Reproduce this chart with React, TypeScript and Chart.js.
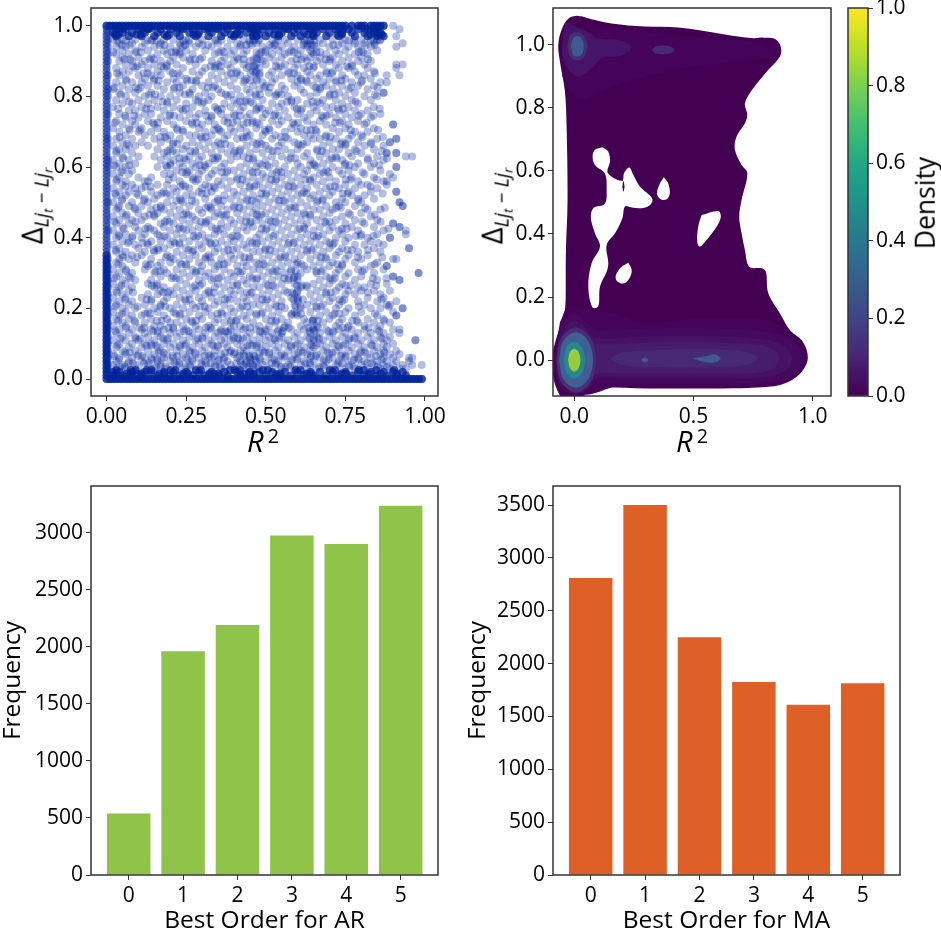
import { useEffect, useRef } from 'react'
import { Chart, registerables } from 'chart.js'

Chart.register(...registerables)

const FONT = '"Open Sans", sans-serif'
const INK = '#000'
const FRAME = '#333'

// bottom bar charts
const orders = [0, 1, 2, 3, 4, 5]
const arCounts = [540, 1960, 2190, 2975, 2900, 3235]
const maCounts = [2810, 3500, 2250, 1825, 1610, 1815]
const arTicks = [0, 500, 1000, 1500, 2000, 2500, 3000]
const maTicks = [0, 500, 1000, 1500, 2000, 2500, 3000, 3500]

// scatter: dense edges of the cloud
const edgeTopX = [0,.01,.02,.03,.04,.05,.06,.07,.08,.09,.1,.11,.12,.13,.14,.15,.16,.17,.18,.19,.2,.21,.22,.23,.24,.25,.26,.27,.28,.29,.3,.31,.32,.33,.34,.35,.36,.37,.38,.39,.4,.41,.42,.43,.44,.45,.46,.47,.48,.49,.5,.51,.52,.53,.54,.55,.56,.57,.58,.59,.6,.61,.62,.63,.64,.65,.66,.67,.68,.69,.7,.71,.72,.73,.74,.75,.77,.79,.8,.81,.83,.84,.85,.86,.87]
const edgeBottomX = [0,.01,.02,.03,.04,.05,.06,.07,.08,.09,.1,.11,.12,.13,.14,.15,.16,.17,.18,.19,.2,.21,.22,.23,.24,.25,.26,.27,.28,.29,.3,.31,.32,.33,.34,.35,.36,.37,.38,.39,.4,.41,.42,.43,.44,.45,.46,.47,.48,.49,.5,.51,.52,.53,.54,.55,.56,.57,.58,.59,.6,.61,.62,.63,.64,.65,.66,.67,.68,.69,.7,.71,.72,.73,.74,.75,.76,.77,.78,.79,.8,.81,.82,.83,.84,.85,.86,.87,.88,.89,.9,.91,.92,.93,.94,.95,.96,.97,.98,.99]
const edgeLeftLow = [.01,.02,.03,.04,.05,.06,.07,.08,.09,.1,.11,.12,.13,.14,.15,.16,.17,.18,.19,.2,.21,.22,.23,.24,.25,.26,.27,.28,.29,.3,.31,.32,.33,.34,.35]
const edgeLeftHigh = [.36,.37,.38,.39,.4,.41,.42,.43,.44,.45,.46,.47,.48,.49,.5,.51,.52,.53,.54,.55,.56,.57,.58,.59,.6,.61,.62,.63,.64,.65,.66,.67,.68,.69,.7,.71,.72,.73,.74,.75,.76,.77,.78,.79,.8,.81,.82,.83,.84,.85,.86,.87,.88,.89,.9,.91,.92,.93,.94,.95,.96,.97,.98,.99]
const edgeLeftDense = [.02,.04,.06,.08,.1,.12,.14,.16,.18,.2,.22,.24,.26,.28,.3,.32,.34,.42,.5,.6,.62,.68,.75,.8,.82,.86,.9,.92,.94,.96,.98]
const edgeRepeats = [1, 2, 3, 4, 5]
const bandRepeats = [1, 2, 3]

const scatterHigh = [
  [.99,.03,.06,.1,.13,.17,.2,.24,.27,.31,.35,.38,.42,.46,.49,.53,.57,.6,.64,.68,.72,.76,.79,.83,.85],
  [.98,.02,.05,.08,.12,.16,.22,.26,.29,.33,.37,.41,.44,.47,.51,.55,.59,.62,.66,.7,.74,.77,.81,.84,.86],
  [.97,.03,.07,.11,.15,.19,.23,.28,.32,.36,.4,.46,.47,.5,.54,.58,.61,.65,.69,.73,.78,.82,.85,.87],
  [.96,.02,.05,.09,.14,.18,.21,.25,.3,.34,.39,.43,.46,.48,.52,.56,.6,.63,.67,.71,.75,.8,.83,.86],
  [.95,.04,.08,.12,.17,.23,.26,.29,.35,.41,.45,.47,.53,.57,.62,.64,.68,.74,.78,.81,.84],
  [.94,.03,.06,.11,.15,.2,.24,.28,.33,.38,.42,.49,.52,.55,.59,.63,.66,.7,.76,.79,.83],
  [.93,.05,.09,.13,.18,.22,.25,.31,.36,.4,.44,.5,.54,.58,.61,.64,.72,.75,.8,.85],
  [.92,.03,.07,.16,.19,.23,.27,.34,.39,.43,.48,.52,.56,.6,.65,.69,.73,.78,.82],
  [.91,.05,.1,.14,.21,.24,.3,.37,.41,.47,.51,.55,.62,.64,.67,.71,.76,.8],
  [.9,.04,.08,.12,.17,.2,.26,.33,.36,.4,.45,.49,.53,.58,.63,.66,.7,.74,.79,.83],
  [.89,.06,.11,.15,.19,.22,.28,.35,.38,.43,.47,.5,.56,.6,.68,.72,.77,.81],
  [.88,.03,.09,.13,.18,.24,.31,.34,.39,.44,.48,.54,.59,.62,.65,.73,.76,.82],
  [.87,.05,.07,.16,.2,.27,.3,.36,.41,.46,.47,.52,.57,.63,.69,.71,.78,.84],
  [.86,.04,.1,.14,.17,.23,.29,.33,.38,.42,.48,.51,.55,.6,.64,.67,.74,.79,.81],
  [.85,.06,.12,.15,.21,.25,.35,.4,.44,.47,.53,.58,.61,.66,.7,.75,.83],
]
const scatterMid = [
  [.84,.03,.08,.11,.19,.22,.28,.32,.37,.43,.49,.52,.6,.63,.68,.72,.77,.8,.86],
  [.83,.05,.13,.16,.24,.3,.34,.39,.46,.5,.55,.59,.65,.69,.74,.79,.84],
  [.82,.02,.07,.1,.18,.21,.27,.35,.41,.44,.48,.56,.61,.67,.71,.76,.82],
  [.81,.04,.09,.14,.23,.26,.31,.36,.45,.51,.54,.62,.66,.73,.78,.87],
  [.8,.06,.12,.17,.2,.29,.33,.38,.42,.47,.53,.57,.64,.7,.75,.81,.85],
  [.79,.03,.1,.15,.22,.28,.32,.4,.44,.49,.58,.6,.68,.72,.77,.83],
  [.78,.05,.08,.13,.19,.25,.3,.37,.41,.46,.52,.55,.63,.67,.74,.79],
  [.77,.02,.11,.16,.21,.27,.34,.39,.43,.48,.54,.59,.65,.69,.71,.76,.84],
  [.76,.07,.09,.18,.24,.31,.35,.42,.47,.51,.56,.61,.66,.73,.78,.82],
  [.75,.04,.12,.14,.2,.26,.29,.36,.4,.45,.5,.53,.6,.64,.7,.75,.8,.86],
  [.74,.06,.1,.17,.23,.28,.33,.38,.44,.49,.57,.62,.68,.72,.77,.83],
  [.73,.03,.08,.13,.19,.25,.32,.37,.41,.46,.52,.55,.63,.67,.74,.79],
  [.72,.05,.09,.15,.21,.27,.3,.34,.43,.48,.54,.59,.65,.69,.76,.81,.9],
  [.71,.02,.07,.11,.16,.22,.29,.35,.39,.42,.47,.51,.58,.61,.71,.75,.84],
  [.7,.04,.1,.14,.18,.24,.31,.36,.4,.44,.5,.56,.6,.66,.73,.78,.82],
  [.69,.06,.12,.2,.26,.28,.33,.38,.45,.49,.53,.62,.64,.69,.77,.8],
  [.68,.03,.08,.15,.19,.23,.3,.37,.41,.43,.52,.57,.65,.67,.72,.76,.85,.91],
  [.67,.05,.11,.17,.21,.27,.32,.35,.46,.48,.55,.59,.63,.7,.74,.79,.83,.89],
  [.66,.02,.07,.09,.13,.25,.29,.34,.39,.44,.5,.54,.61,.68,.75,.81,.87],
  [.65,.04,.06,.16,.2,.24,.31,.36,.42,.47,.51,.56,.6,.66,.71,.73,.78,.84],
  [.64,.03,.08,.18,.22,.28,.33,.38,.4,.45,.49,.58,.63,.69,.76,.8,.88,.91],
  [.63,.05,.1,.15,.19,.26,.3,.35,.41,.43,.52,.55,.62,.67,.72,.77,.85,.94,.96],
  [.62,.02,.07,.17,.21,.25,.29,.34,.39,.46,.5,.57,.64,.7,.74,.82,.87],
  [.61,.04,.09,.2,.23,.27,.32,.37,.44,.48,.53,.6,.65,.68,.75,.79,.84],
  [.6,.03,.06,.16,.19,.24,.28,.31,.36,.42,.47,.51,.56,.61,.66,.71,.78,.83,.91],
  [.59,.05,.08,.22,.26,.3,.34,.38,.4,.45,.54,.59,.63,.69,.73,.76,.86],
  [.58,.02,.07,.18,.2,.25,.29,.33,.43,.49,.52,.57,.62,.67,.74,.81,.89],
  [.57,.04,.1,.14,.21,.27,.32,.37,.41,.46,.5,.55,.6,.65,.7,.77,.84],
  [.56,.03,.06,.12,.13,.23,.28,.35,.39,.44,.48,.53,.58,.64,.68,.72,.79,.87],
  [.55,.05,.08,.16,.19,.24,.31,.36,.42,.47,.51,.56,.61,.66,.75,.8,.82,.88],
  [.54,.02,.09,.11,.21,.26,.3,.34,.38,.45,.49,.54,.59,.63,.69,.73,.78,.85],
  [.53,.04,.07,.14,.18,.22,.29,.33,.4,.43,.52,.57,.62,.67,.71,.76,.83,.91],
  [.52,.03,.06,.1,.16,.2,.25,.27,.37,.41,.46,.5,.55,.6,.65,.7,.77,.81],
  [.51,.05,.12,.15,.23,.31,.35,.39,.44,.48,.53,.58,.64,.68,.74,.79,.84],
  [.5,.02,.08,.13,.19,.24,.28,.34,.42,.47,.51,.56,.61,.66,.72,.75,.8,.92],
  [.49,.04,.07,.11,.17,.21,.26,.32,.36,.4,.45,.49,.54,.59,.63,.69,.73,.78,.93],
  [.48,.03,.09,.14,.18,.23,.29,.33,.38,.43,.47,.52,.57,.65,.67,.71,.82,.86],
  [.47,.05,.1,.16,.2,.25,.3,.35,.41,.46,.5,.55,.6,.62,.7,.76,.8],
  [.46,.02,.06,.12,.15,.22,.27,.34,.37,.44,.48,.53,.58,.64,.68,.74,.83],
  [.45,.04,.08,.11,.19,.24,.28,.32,.39,.42,.47,.51,.56,.61,.66,.72,.78,.85],
  [.44,.03,.07,.17,.21,.26,.31,.36,.4,.45,.49,.54,.59,.63,.69,.75,.81,.9],
  [.43,.05,.09,.13,.18,.23,.29,.33,.38,.43,.46,.52,.57,.62,.67,.71,.77,.84,.92],
  [.42,.02,.1,.15,.2,.25,.27,.35,.41,.44,.5,.55,.6,.65,.7,.73,.79,.87,.94],
  [.41,.04,.06,.12,.16,.22,.3,.34,.37,.48,.53,.58,.63,.68,.74,.8,.85],
  [.4,.03,.08,.11,.19,.24,.28,.32,.39,.42,.47,.51,.56,.61,.66,.72,.76,.82,.89],
  [.39,.05,.07,.14,.17,.21,.26,.31,.36,.4,.45,.49,.54,.59,.64,.69,.75,.83],
  [.38,.02,.09,.13,.2,.23,.29,.33,.38,.43,.47,.52,.57,.62,.67,.71,.78,.81,.87],
  [.37,.04,.1,.16,.18,.25,.3,.35,.41,.44,.5,.55,.6,.65,.7,.74,.84,.95],
  [.36,.03,.06,.12,.15,.22,.27,.34,.37,.46,.48,.53,.58,.63,.68,.73,.79,.86],
  [.35,.05,.08,.11,.19,.24,.28,.32,.39,.42,.51,.56,.61,.66,.72,.76,.82],
  [.34,.04,.07,.14,.21,.26,.31,.36,.4,.45,.49,.54,.59,.64,.69,.75,.8,.9],
  [.33,.03,.09,.17,.2,.23,.29,.33,.38,.43,.47,.52,.57,.6,.67,.71,.78,.85],
  [.32,.05,.13,.16,.25,.3,.35,.41,.44,.5,.55,.62,.65,.7,.74,.83,.88],
  [.31,.02,.06,.12,.18,.22,.27,.34,.37,.46,.48,.53,.58,.63,.68,.73,.79,.81,.87],
  [.3,.04,.08,.15,.19,.24,.28,.32,.39,.42,.51,.56,.61,.66,.72,.76,.84,.98],
  [.29,.03,.07,.17,.21,.26,.31,.36,.4,.45,.49,.54,.59,.6,.69,.75,.8,.9],
  [.28,.05,.09,.14,.23,.29,.33,.38,.43,.47,.52,.57,.6,.67,.71,.78,.85,.92],
  [.27,.02,.06,.13,.16,.25,.3,.35,.41,.44,.5,.55,.59,.65,.7,.74,.83,.88],
  [.26,.04,.08,.15,.18,.22,.27,.34,.37,.46,.48,.53,.61,.63,.68,.73,.79,.81],
  [.25,.03,.07,.17,.2,.24,.28,.32,.39,.42,.51,.56,.6,.66,.72,.76,.8,.84,.89],
  [.24,.05,.13,.16,.21,.26,.31,.36,.4,.45,.49,.54,.59,.64,.69,.75,.78,.86],
  [.23,.02,.06,.11,.19,.23,.29,.33,.38,.43,.47,.52,.58,.6,.67,.71,.82,.87],
  [.22,.04,.08,.14,.18,.25,.3,.35,.41,.44,.5,.55,.6,.65,.7,.74,.79,.85,.91],
  [.21,.03,.07,.12,.17,.22,.27,.34,.37,.46,.48,.53,.59,.63,.68,.73,.81,.88,.89],
  [.2,.05,.09,.15,.2,.24,.28,.32,.39,.42,.51,.56,.61,.66,.72,.76,.83,.86,.93],
  [.19,.02,.06,.13,.16,.21,.26,.31,.36,.4,.45,.49,.54,.59,.64,.69,.75,.8,.9],
  [.18,.04,.08,.11,.18,.23,.29,.33,.38,.43,.47,.52,.58,.6,.67,.71,.78,.85,.91],
  [.17,.03,.07,.14,.19,.25,.3,.35,.41,.44,.5,.55,.62,.65,.7,.74,.82,.87],
  [.16,.05,.09,.12,.2,.22,.27,.34,.37,.39,.46,.53,.57,.63,.68,.73,.79,.84,.89],
  [.15,.02,.06,.15,.17,.24,.28,.32,.4,.42,.48,.51,.56,.61,.66,.72,.76,.81,.86],
]
const scatterLow = [
  [.14,.04,.08,.11,.14,.18,.21,.25,.29,.33,.36,.39,.43,.47,.5,.54,.58,.62,.65,.69,.73,.77,.81,.85,.9,.92],
  [.13,.03,.07,.12,.16,.2,.23,.27,.31,.35,.38,.41,.45,.49,.52,.55,.6,.64,.67,.71,.75,.79,.83,.87],
  [.12,.05,.09,.13,.17,.22,.26,.3,.34,.37,.4,.44,.48,.51,.55,.59,.63,.66,.7,.74,.78,.82,.86,.89],
  [.11,.02,.06,.1,.15,.19,.24,.28,.32,.36,.39,.42,.46,.5,.53,.57,.61,.65,.68,.72,.76,.8,.84,.88,.97],
  [.1,.04,.08,.12,.14,.18,.21,.25,.29,.33,.37,.41,.45,.48,.52,.56,.6,.64,.67,.71,.75,.79,.83,.87,.9],
  [.09,.03,.07,.11,.16,.2,.23,.27,.31,.35,.38,.43,.47,.5,.54,.58,.62,.65,.69,.73,.77,.81,.85,.88],
  [.08,.05,.09,.13,.17,.22,.26,.3,.34,.39,.42,.44,.49,.53,.57,.61,.64,.68,.72,.76,.8,.84,.87,.91],
  [.07,.02,.06,.1,.15,.19,.24,.28,.32,.36,.4,.43,.46,.51,.55,.59,.63,.66,.7,.74,.78,.82,.86,.89,.92],
  [.06,.04,.08,.12,.14,.18,.21,.25,.29,.33,.37,.41,.45,.48,.52,.56,.6,.64,.67,.71,.75,.79,.83,.87,.9,.95,.96],
  [.05,.03,.07,.11,.16,.2,.23,.27,.31,.35,.38,.42,.44,.47,.5,.54,.58,.62,.65,.69,.73,.77,.81,.85,.88,.91,.95],
  [.04,.02,.05,.09,.13,.17,.22,.26,.3,.34,.39,.43,.46,.49,.53,.57,.61,.64,.68,.72,.76,.8,.84,.87,.9,.93,.96,.99],
  [.03,.03,.06,.1,.15,.19,.24,.28,.32,.36,.4,.44,.47,.51,.55,.59,.63,.66,.7,.74,.78,.82,.86,.89,.92,.94],
  [.02,.02,.04,.08,.12,.14,.18,.21,.25,.29,.33,.37,.41,.45,.48,.52,.56,.6,.64,.67,.71,.75,.79,.83,.87,.9,.93],
  [.01,.02,.05,.07,.11,.16,.2,.23,.27,.31,.35,.38,.42,.46,.5,.54,.58,.62,.65,.69,.73,.77,.81,.85,.88,.91,.94],
]
// clumps in between the rows, where the dots pile up in the reference
const scatterClumps = [
  [.992,.041,.052,.113,.127,.138,.223,.236,.318,.329,.347,.451,.462,.473,.558,.569,.642,.655,.731,.744,.812,.838,.846],
  [.975,.027,.038,.094,.107,.182,.196,.273,.286,.391,.404,.417,.462,.478,.527,.541,.633,.648,.725,.739,.828,.852,.864],
  [.958,.034,.061,.128,.143,.157,.241,.258,.344,.361,.448,.463,.477,.538,.622,.639,.653,.761,.776,.837,.849,.858],
  [.945,.048,.072,.166,.181,.232,.247,.301,.318,.421,.439,.456,.512,.528,.618,.631,.644,.652,.712,.728,.815,.842],
  [.925,.021,.093,.108,.204,.217,.229,.352,.368,.471,.486,.498,.572,.588,.646,.659,.671,.792,.806],
  [.905,.056,.074,.136,.148,.262,.278,.293,.414,.431,.462,.473,.485,.596,.612,.688,.703,.821],
  [.885,.083,.097,.172,.188,.327,.342,.358,.447,.461,.466,.532,.548,.637,.651,.755,.771],
  [.865,.033,.116,.129,.208,.223,.391,.407,.452,.468,.481,.573,.589,.692,.708,.843],
  [.845,.062,.148,.164,.253,.267,.282,.435,.451,.472,.611,.627,.722,.738,.803],
  [.825,.024,.092,.107,.213,.229,.318,.334,.496,.513,.658,.672,.768,.851],
  [.805,.045,.133,.152,.246,.262,.374,.391,.468,.482,.533,.549,.701,.716,.843],
  [.785,.071,.176,.191,.288,.305,.419,.436,.452,.567,.581,.647,.662,.782],
  [.765,.036,.124,.139,.233,.249,.347,.362,.471,.488,.598,.614,.727,.742,.858],
  [.745,.058,.087,.197,.212,.313,.329,.403,.419,.526,.541,.676,.691,.792,.838],
  [.725,.026,.146,.161,.268,.283,.381,.396,.442,.457,.472,.585,.601,.718,.733,.816],
  [.705,.073,.105,.223,.239,.338,.354,.497,.512,.628,.642,.657,.767,.853],
  [.685,.041,.169,.184,.296,.311,.426,.441,.547,.562,.688,.703,.804,.868],
  [.665,.064,.208,.223,.358,.373,.472,.487,.602,.617,.736,.751,.831],
  [.645,.031,.192,.207,.263,.278,.403,.418,.521,.536,.662,.677,.785,.864],
  [.625,.052,.229,.244,.334,.349,.446,.461,.578,.593,.708,.723,.821,.881],
  [.605,.023,.071,.186,.201,.293,.308,.489,.504,.639,.654,.748,.763,.856],
  [.585,.046,.238,.253,.362,.377,.459,.474,.534,.549,.681,.696,.804],
  [.565,.032,.195,.272,.287,.411,.426,.518,.533,.624,.639,.751,.766,.848],
  [.545,.059,.122,.138,.232,.247,.322,.337,.449,.464,.571,.586,.702,.717,.829],
  [.525,.027,.094,.173,.188,.299,.314,.486,.501,.613,.628,.742,.757,.867],
  [.505,.048,.117,.219,.234,.268,.351,.366,.442,.457,.541,.556,.663,.678,.791],
  [.485,.036,.087,.156,.171,.312,.327,.402,.417,.578,.593,.721,.736,.812,.874],
  [.465,.063,.134,.149,.242,.257,.361,.376,.472,.487,.624,.639,.765,.842],
  [.445,.025,.091,.183,.198,.297,.312,.438,.453,.516,.531,.686,.701,.803,.861],
  [.425,.054,.122,.137,.226,.241,.343,.358,.487,.502,.607,.622,.739,.754,.885],
  [.405,.038,.082,.167,.182,.273,.288,.396,.411,.523,.651,.666,.783,.798,.838],
  [.385,.067,.113,.128,.214,.229,.326,.341,.457,.472,.572,.587,.701,.716,.854],
  [.365,.029,.148,.163,.258,.273,.382,.397,.498,.513,.628,.643,.756,.771,.821],
  [.345,.051,.096,.186,.201,.311,.326,.433,.448,.547,.562,.673,.688,.789,.866],
  [.325,.037,.123,.138,.235,.25,.354,.369,.478,.493,.596,.611,.725,.74,.842],
  [.305,.062,.154,.169,.281,.296,.412,.427,.521,.536,.579,.594,.658,.673,.803],
  [.285,.024,.075,.204,.219,.337,.352,.458,.473,.558,.573,.588,.702,.717,.836,.879],
  [.265,.046,.142,.157,.278,.293,.396,.411,.507,.522,.598,.613,.628,.751,.766,.847],
  [.245,.033,.083,.178,.193,.322,.337,.441,.456,.568,.583,.598,.689,.704,.821],
  [.225,.058,.126,.141,.246,.261,.372,.387,.489,.504,.587,.602,.617,.732,.747,.864],
  [.205,.027,.097,.169,.184,.293,.308,.427,.442,.534,.549,.594,.609,.658,.673,.792,.886],
  [.185,.049,.121,.136,.217,.232,.348,.363,.471,.486,.581,.596,.611,.716,.731,.843],
  [.165,.036,.088,.158,.173,.266,.281,.392,.407,.518,.533,.648,.663,.647,.771,.786,.872],
  [.145,.061,.103,.118,.194,.209,.312,.327,.436,.451,.557,.572,.634,.649,.664,.742,.757,.823],
  [.135,.028,.146,.161,.243,.258,.358,.373,.383,.482,.497,.538,.553,.638,.653,.697,.712,.856],
  [.115,.043,.091,.106,.178,.193,.286,.301,.398,.413,.428,.527,.542,.637,.652,.667,.763,.778,.864],
  [.095,.034,.126,.141,.156,.231,.246,.334,.349,.442,.457,.472,.579,.594,.644,.659,.728,.743,.833],
  [.075,.058,.073,.164,.179,.262,.277,.372,.387,.402,.481,.496,.511,.602,.617,.694,.709,.796,.811,.872],
  [.065,.024,.097,.112,.207,.222,.308,.323,.338,.418,.433,.448,.463,.545,.56,.642,.657,.736,.751,.846],
  [.055,.039,.143,.158,.173,.254,.269,.353,.368,.452,.467,.482,.526,.583,.598,.683,.698,.777,.792,.864],
  [.045,.068,.083,.118,.133,.213,.228,.297,.312,.327,.407,.422,.437,.452,.518,.533,.624,.639,.726,.741,.818,.833],
  [.035,.042,.057,.155,.17,.185,.248,.263,.342,.357,.372,.446,.461,.476,.547,.562,.577,.668,.683,.762,.777,.852,.881],
  [.025,.031,.076,.091,.126,.141,.201,.216,.281,.296,.388,.403,.418,.491,.506,.594,.609,.702,.717,.793,.808,.847,.903],
  [.015,.028,.063,.078,.093,.108,.166,.181,.241,.256,.323,.338,.353,.432,.447,.462,.531,.546,.628,.643,.738,.753,.824,.861,.912],
]
const scatterStragglers = [[.93,.95],[.92,.99],[.91,.97],[.91,.94],[.93,.89],[.91,.89],[.91,.88],[.92,.86],[.9,1],[.88,.86],[.88,.84],[.87,.81],[.9,.72],[.91,.68],[.89,.67],[.91,.64],[.88,.64],[.91,.6],[.9,.57],[.88,.56],[.91,.53],[.92,.5],[.93,.49],[.9,.44],[.92,.43],[.89,.4],[.94,.41],[.95,.37],[.98,.3],[.92,.28],[.9,.29],[.88,.32],[.91,.34],[.93,.2],[.91,.18],[.92,.13],[.97,.11]]
const scatterTicksX = [0, .25, .5, .75, 1]
const scatterTicksY = [0, .2, .4, .6, .8, 1]

// density: contour outlines as [x, y], lowest level first
const densityOutline = [[-.039,.159],[-.06,.106],[-.081,.053],[-.09,.021],[-.09,-.042],[-.074,-.09],[-.046,-.12],[.034,-.12],[.052,-.1],[.087,-.087],[.3,-.09],[.625,-.09],[.765,-.087],[.863,-.079],[.933,-.053],[.975,-.011],[.977,.026],[.954,.063],[.905,.095],[.863,.148],[.814,.212],[.804,.28],[.786,.291],[.734,.296],[.716,.349],[.702,.402],[.692,.455],[.702,.508],[.726,.593],[.702,.619],[.674,.667],[.681,.709],[.716,.751],[.726,.778],[.716,.815],[.751,.862],[.807,.915],[.863,.963],[.866,.995],[.842,1.019],[.793,1.023],[.751,1.021],[.625,1.034],[.436,1.055],[.297,1.058],[.157,1.068],[.087,1.079],[.017,1.092],[-.025,1.083],[-.053,1.048],[-.067,1],[-.06,.947],[-.039,.852],[-.032,.741],[-.028,.508],[-.035,.339],[-.036,.19],[-.039,.159]]
const faintTop = [[-.05,.9],[.02,.83],[.1,.85],[.3,.9],[.5,.93],[.7,.95],[.82,.96],[.8,1],[.6,1.02],[.3,1.04],[.05,1.06],[-.04,1.02],[-.05,.9]]
const faintBottom = [[-.06,.12],[-.02,.17],[.1,.16],[.3,.12],[.5,.13],[.7,.13],[.84,.12],[.93,.05],[.95,-.02],[.86,-.07],[.6,-.08],[.2,-.08],[.05,-.11],[-.05,-.09],[-.08,0],[-.06,.12]]
const topRing = [[-.05,.995],[-.035,1.07],[.013,1.055],[.06,1.04],[.1,1.02],[.19,1.015],[.24,.995],[.23,.98],[.19,.965],[.12,.96],[.08,.93],[.017,.9],[-.03,.93],[-.05,.97],[-.05,.995]]
const topRing2 = [[-.029,.995],[-.015,1.032],[.013,1.04],[.04,1.03],[.055,.995],[.04,.96],[.013,.951],[-.015,.96],[-.029,.995]]
const topSpot = [[-.014,.995],[-.004,1.022],[.013,1.027],[.03,1.022],[.04,.995],[.03,.968],[.013,.963],[-.004,.968],[-.014,.995]]
const topSliver = [[.325,.984],[.345,.996],[.4,.996],[.42,.984],[.4,.972],[.345,.972],[.325,.984]]
const bandA = [[-.07,.06],[-.045,.12],[0,.15],[.05,.12],[.1,.095],[.3,.1],[.6,.1],[.8,.09],[.9,.07],[.955,.02],[.93,-.04],[.85,-.068],[.6,-.072],[.2,-.072],[.08,-.08],[.04,-.105],[-.01,-.11],[-.06,-.08],[-.08,-.01],[-.07,.06]]
const bandB = [[-.06,.05],[-.035,.105],[0,.125],[.05,.1],[.09,.07],[.3,.075],[.6,.075],[.8,.065],[.88,.045],[.912,.01],[.89,-.03],[.8,-.054],[.6,-.056],[.2,-.056],[.09,-.06],[.05,-.095],[0,-.1],[-.05,-.07],[-.07,-.01],[-.06,.05]]
const bandC = [[-.055,.04],[-.03,.09],[.005,.105],[.05,.08],[.085,.052],[.3,.056],[.6,.056],[.78,.048],[.84,.03],[.859,.005],[.84,-.025],[.77,-.04],[.6,-.043],[.2,-.043],[.09,-.045],[.06,-.075],[0,-.09],[-.05,-.06],[-.065,-.01],[-.055,.04]]
const bandD = [[.15,.005],[.2,.024],[.4,.033],[.6,.034],[.72,.026],[.771,.005],[.72,-.016],[.6,-.022],[.4,-.024],[.2,-.016],[.15,.005]]
const spotLeft = [[.28,0],[.295,.008],[.311,0],[.295,-.008],[.28,0]]
const spotRight = [[.497,.005],[.55,.012],[.59,.018],[.614,.005],[.59,-.008],[.55,-.007],[.497,.005]]
const lumpRing = [[-.076,.0],[-.055,.07],[.007,.103],[.07,.07],[.09,0],[.07,-.07],[.007,-.103],[-.055,-.07],[-.076,0]]
const lumpBlue = [[-.064,0],[-.045,.062],[.007,.088],[.058,.062],[.078,0],[.058,-.062],[.007,-.088],[-.045,-.062],[-.064,0]]
const lumpTeal = [[-.045,0],[-.032,.041],[0,.058],[.032,.041],[.045,0],[.032,-.041],[0,-.058],[-.032,-.041],[-.045,0]]
const lumpGreen = [[-.026,0],[-.018,.026],[0,.036],[.018,.026],[.026,0],[.018,-.026],[0,-.036],[-.018,-.026],[-.026,0]]
const holeLarge = [[.119,.675],[.143,.661],[.15,.63],[.139,.598],[.157,.582],[.202,.569],[.209,.593],[.231,.611],[.248,.587],[.276,.55],[.327,.513],[.318,.492],[.283,.482],[.241,.484],[.213,.487],[.202,.45],[.171,.402],[.136,.365],[.143,.307],[.136,.28],[.108,.233],[.101,.171],[.077,.167],[.059,.233],[.073,.307],[.108,.36],[.087,.402],[.07,.45],[.08,.482],[.129,.497],[.136,.55],[.133,.582],[.122,.598],[.087,.619],[.077,.646],[.087,.667],[.119,.675]]
const holeSliver = [[.202,.55],[.206,.568],[.211,.55],[.206,.534],[.202,.55]]
const holeNear = [[.376,.58],[.394,.561],[.401,.529],[.388,.51],[.362,.51],[.347,.529],[.36,.561],[.376,.58]]
const holeRight = [[.534,.46],[.604,.473],[.615,.455],[.597,.423],[.555,.381],[.527,.36],[.516,.376],[.52,.423],[.534,.46]]
const holeLow = [[.227,.309],[.241,.286],[.231,.259],[.206,.243],[.178,.252],[.175,.27],[.199,.296],[.227,.309]]
const densityTicksX = [0, .5, 1]
const densityTicksY = [0, .2, .4, .6, .8, 1]

// colour bar
const barTicks = [0, .2, .4, .6, .8, 1]
const viridis = ['#440154', '#482475', '#414487', '#355f8d', '#2a788e', '#21918c', '#22a884', '#44bf70', '#7ad151', '#bddf26', '#fde725']

const densityLayers: [number[][], string][] = [
  [densityOutline, '#440154'],
  [faintTop, '#45045a'],
  [faintBottom, '#45045a'],
  [bandA, '#450a5f'],
  [bandB, '#461264'],
  [bandC, '#471c6b'],
  [bandD, '#472a72'],
  [spotLeft, '#3f5a90'],
  [spotRight, '#3f5a90'],
  [topRing, '#461468'],
  [topRing2, '#472e73'],
  [topSpot, '#3f5a90'],
  [topSliver, '#472a72'],
  [lumpRing, '#482f75'],
  [lumpBlue, '#3f5f95'],
  [lumpTeal, '#26878d'],
  [lumpGreen, '#98cb3e'],
  [holeLarge, '#ffffff'],
  [holeSliver, '#440154'],
  [holeNear, '#ffffff'],
  [holeRight, '#ffffff'],
  [holeLow, '#ffffff'],
]

const framePlugin = {
  id: 'frame',
  afterDatasetsDraw(chart: Chart) {
    const { ctx, chartArea: a } = chart
    ctx.save()
    ctx.strokeStyle = FRAME
    ctx.lineWidth = 1.5
    ctx.strokeRect(a.left, a.top, a.right - a.left, a.bottom - a.top)
    ctx.restore()
  },
}

const tickFont = { family: FONT, size: 21 }
const tickGrid = { drawOnChartArea: false, drawTicks: true, tickLength: 5, color: FRAME, lineWidth: 1, offset: false }

function axis(min: number, max: number, values: number[], digits: number, fit: number, horizontal: boolean, title?: string) {
  return {
    type: 'linear' as const,
    min,
    max,
    offset: false,
    border: { display: false },
    grid: tickGrid,
    title: title
      ? { display: true, text: title, color: INK, padding: { top: 1, bottom: 0 }, font: { family: FONT, size: 24.5, lineHeight: 1 } }
      : { display: false },
    ticks: {
      color: INK,
      font: tickFont,
      padding: 3,
      autoSkip: false,
      maxRotation: 0,
      callback: (v: number | string) => Number(v).toFixed(digits),
    },
    afterBuildTicks: (s: any) => { s.ticks = values.map(value => ({ value })) },
    afterFit: (s: any) => {
      if (horizontal) s.height = fit; else s.width = fit
      s.paddingTop = s.paddingBottom = s.paddingLeft = s.paddingRight = 0
    },
  }
}

function useChart(make: (c: HTMLCanvasElement) => Chart) {
  const ref = useRef<HTMLCanvasElement>(null)
  useEffect(() => {
    if (!ref.current) return
    const chart = make(ref.current)
    return () => chart.destroy()
  }, [])
  return ref
}

function ScatterPanel() {
  const ref = useChart(c => {
    const pts: { x: number; y: number }[] = []
    edgeRepeats.forEach(() => {
      edgeTopX.forEach(x => pts.push({ x, y: 1 }))
      edgeBottomX.forEach(x => pts.push({ x, y: 0 }))
      edgeLeftLow.forEach(y => pts.push({ x: 0, y }))
    })
    edgeLeftHigh.forEach(y => { pts.push({ x: 0, y }); pts.push({ x: 0, y }) })
    edgeLeftDense.forEach(y => pts.push({ x: .005, y }))
    const rows = [...scatterHigh, ...scatterMid, ...scatterLow, ...scatterClumps]
    rows.forEach(([y, ...xs]) => xs.forEach(x => pts.push({ x, y })))
    // the rows hugging y = 0 and y = 1 are piled much thicker
    bandRepeats.forEach(() => rows.filter(([y]) => y >= .97 || y <= .025).forEach(([y, ...xs]) => xs.forEach(x => pts.push({ x, y }))))
    scatterStragglers.forEach(([x, y]) => pts.push({ x, y }))
    return new Chart(c, {
      type: 'scatter',
      data: { datasets: [{ data: pts, pointRadius: 4, pointBorderWidth: 0, backgroundColor: 'rgba(0,35,155,.3)' }] },
      options: {
        responsive: false,
        animation: false,
        layout: { padding: { top: 8, right: 32, left: 0, bottom: 0 } },
        plugins: { legend: { display: false }, tooltip: { enabled: false } },
        scales: {
          x: axis(-.049, 1.041, scatterTicksX, 2, 54, true),
          y: axis(-.048, 1.05, scatterTicksY, 1, 91, false),
        },
      },
      plugins: [framePlugin],
    } as any)
  })
  return <canvas ref={ref} width={470} height={450} style={{ position: 'absolute', left: 0, top: 0 }} />
}

function DensityPanel() {
  const ref = useChart(c => new Chart(c, {
    type: 'scatter',
    data: {
      datasets: densityLayers.map(([shape, color], i) => ({
        data: shape.map(([x, y]) => ({ x, y })),
        showLine: true,
        fill: 'shape',
        tension: .35,
        pointRadius: 0,
        borderWidth: 0,
        backgroundColor: color,
        order: densityLayers.length - i,
      })),
    },
    options: {
      responsive: false,
      animation: false,
      layout: { padding: { top: 8, right: 9, left: 0, bottom: 0 } },
      plugins: { legend: { display: false }, tooltip: { enabled: false } },
      scales: {
        x: axis(-.089, 1.077, densityTicksX, 1, 54, true),
        y: axis(-.114, 1.117, densityTicksY, 1, 83, false),
      },
    },
    plugins: [framePlugin],
  } as any))
  return <canvas ref={ref} width={370} height={450} style={{ position: 'absolute', left: 470, top: 0 }} />
}

function ColorBar() {
  const ref = useChart(c => new Chart(c, {
    type: 'bar',
    data: {
      labels: ['Density'],
      datasets: [{
        data: [[0, 1]],
        categoryPercentage: 1,
        barPercentage: 1,
        backgroundColor: (ctx: any) => {
          const a = ctx.chart.chartArea
          if (!a) return viridis[0]
          const g = ctx.chart.ctx.createLinearGradient(0, a.bottom, 0, a.top)
          viridis.forEach((col, i) => g.addColorStop(i / (viridis.length - 1), col))
          return g
        },
      }],
    },
    options: {
      responsive: false,
      animation: false,
      layout: { padding: { top: 8, left: 8, right: 0, bottom: 54 } },
      plugins: { legend: { display: false }, tooltip: { enabled: false } },
      scales: {
        x: { display: false },
        y: { ...axis(0, 1, barTicks, 1, 73, false), position: 'right' },
      },
    },
    plugins: [framePlugin],
  } as any))
  return <canvas ref={ref} width={101} height={450} style={{ position: 'absolute', left: 840, top: 0 }} />
}

function BarPanel({ counts, color, ticks, yMax, yFit, padRight, title, left, width }: {
  counts: number[]; color: string; ticks: number[]; yMax: number; yFit: number; padRight: number; title: string; left: number; width: number
}) {
  const ref = useChart(c => new Chart(c, {
    type: 'bar',
    data: {
      datasets: [{
        data: orders.map((x, i) => ({ x, y: counts[i] })),
        backgroundColor: color,
        categoryPercentage: 1,
        barPercentage: .8,
      }],
    },
    options: {
      responsive: false,
      animation: false,
      layout: { padding: { top: 16, right: padRight, left: 0, bottom: 0 } },
      plugins: { legend: { display: false }, tooltip: { enabled: false } },
      scales: {
        x: axis(-.693, 5.686, orders, 0, 58, true, title),
        y: axis(0, yMax, ticks, 0, yFit, false, 'Frequency'),
      },
    },
    plugins: [framePlugin],
  } as any))
  return <canvas ref={ref} width={width} height={463} style={{ position: 'absolute', left, top: 470 }} />
}

function Rotated({ x, y, size, children }: { x: number; y: number; size: number; children: React.ReactNode }) {
  return (
    <div style={{ position: 'absolute', left: x, top: y, transform: 'translate(-50%,-50%) rotate(-90deg)', whiteSpace: 'nowrap', fontFamily: FONT, fontSize: size, color: INK, lineHeight: 1 }}>
      {children}
    </div>
  )
}

const subStyle = { fontSize: '.68em', verticalAlign: '-.3em', lineHeight: 0, fontStyle: 'italic' as const }

function DeltaLabel({ x, y }: { x: number; y: number }) {
  return (
    <Rotated x={x} y={y} size={29}>
      Δ<span style={subStyle}>Lj<span style={subStyle}>t</span> − Lj<span style={subStyle}>r</span></span>
    </Rotated>
  )
}

function R2Label({ x, y }: { x: number; y: number }) {
  return (
    <div style={{ position: 'absolute', left: x, top: y, transform: 'translate(-50%,-50%)', whiteSpace: 'nowrap', fontFamily: FONT, fontSize: 29, color: INK, lineHeight: 1 }}>
      <i>R</i><span style={{ fontSize: '.68em', verticalAlign: '.45em', lineHeight: 0, marginLeft: 4 }}>2</span>
    </div>
  )
}

export default function App() {
  return (
    <div style={{ position: 'absolute', left: 0, top: 0, width: 941, height: 932, background: '#fff', overflow: 'hidden' }}>
      <ScatterPanel />
      <DensityPanel />
      <ColorBar />
      <BarPanel counts={arCounts} color="#8fc34a" ticks={arTicks} yMax={3409} yFit={91} padRight={32} title="Best Order for AR" left={0} width={470} />
      <BarPanel counts={maCounts} color="#de6027" ticks={maTicks} yMax={3680} yFit={88} padRight={41} title="Best Order for MA" left={465} width={476} />
      <DeltaLabel x={32} y={206} />
      <DeltaLabel x={492} y={206} />
      <R2Label x={263} y={440} />
      <R2Label x={692} y={440} />
      <Rotated x={925} y={203} size={26.5}>Density</Rotated>
    </div>
  )
}
